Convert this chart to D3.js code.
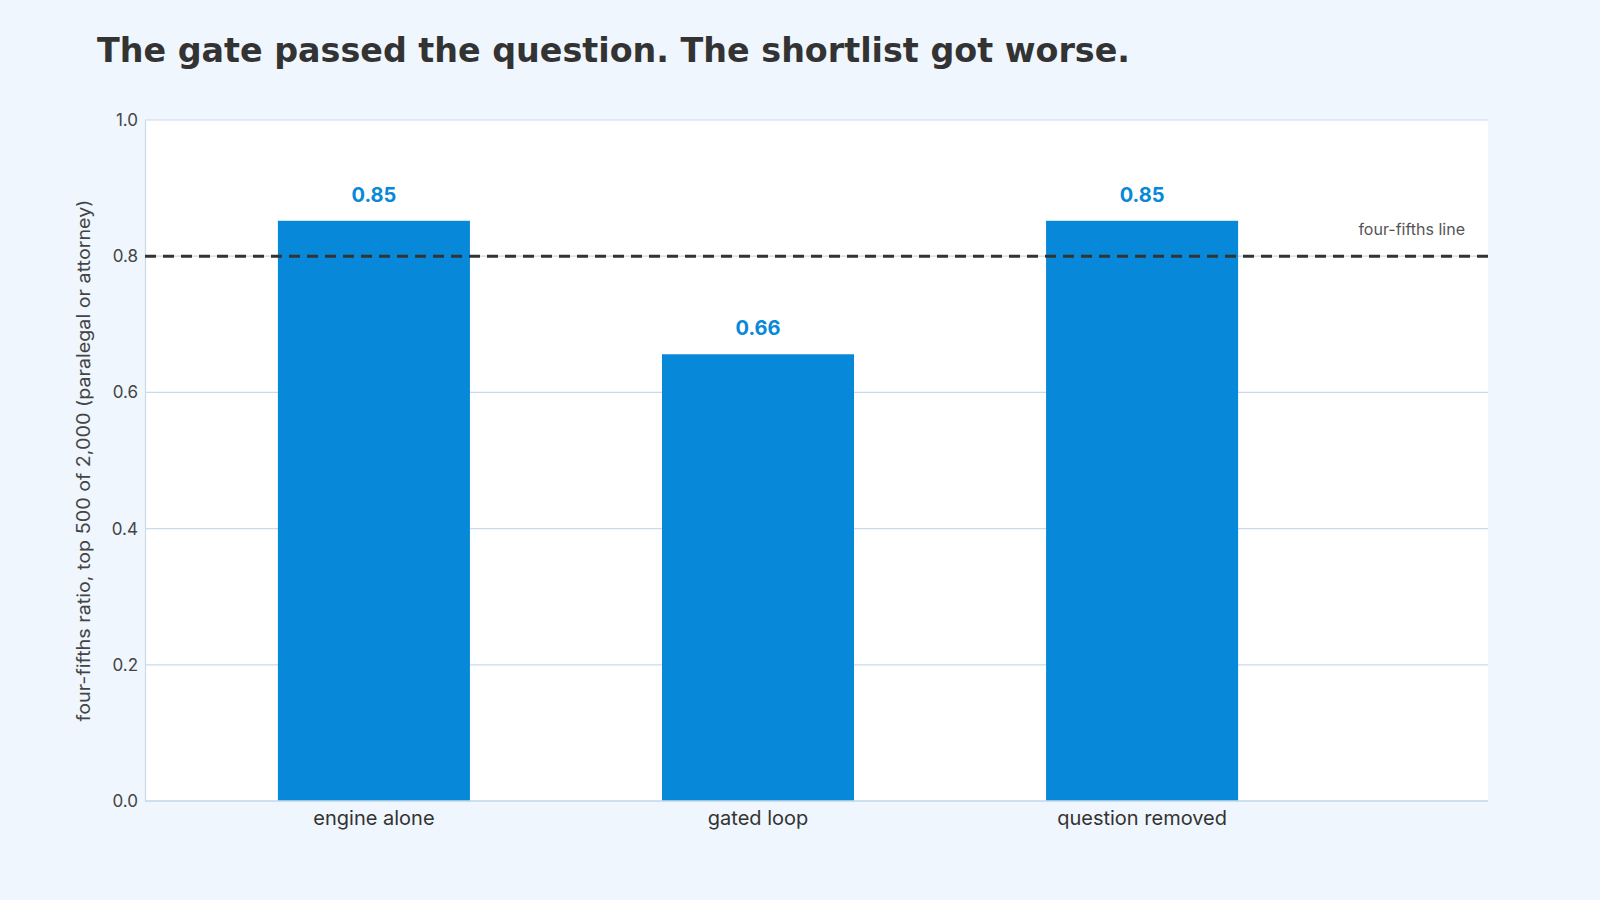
<!DOCTYPE html>
<html lang="en">
<head>
    <meta charset="UTF-8">
    <title>The gate passed the question</title>
    <script src="https://d3js.org/d3.v7.min.js"></script>
    <style>
        body {
            margin: 0;
            padding: 0;
            background-color: #eff6fd;
        }
        .tick text {
            font-family: "Inter", "Open Sans", sans-serif;
        }
    </style>
</head>
<body>
    <svg id="chart" width="1600" height="900"></svg>

    <script>
        // data
        const categories = ["engine alone", "gated loop", "question removed"];
        const ratios = [0.852, 0.656, 0.852];
        const yTicks = [0, 0.2, 0.4, 0.6, 0.8, 1.0];
        const thresholdValue = 0.8;
        const thresholdLabel = ["four-fifths line"];

        const svg = d3.select("#chart");
        const plot = { left: 145, right: 1488, top: 120, bottom: 801 };

        // the bands don't fill the whole plot box in the original, so the range stops short
        const x = d3.scaleBand()
            .domain(categories)
            .range([plot.left, 1371])
            .paddingInner(0.5)
            .paddingOuter(0.346);

        const y = d3.scaleLinear()
            .domain([0, 1])
            .range([plot.bottom, plot.top]);

        // title
        svg.append("text")
            .attr("x", 97)
            .attr("y", 62)
            .attr("textLength", 1033)
            .attr("lengthAdjust", "spacingAndGlyphs")
            .style("font-family", "'DejaVu Sans Condensed', 'DejaVu Sans', sans-serif")
            .style("font-weight", "bold")
            .style("font-size", "33px")
            .style("fill", "#333333")
            .text("The gate passed the question. The shortlist got worse.");

        // plot background
        svg.append("rect")
            .attr("x", plot.left)
            .attr("y", plot.top)
            .attr("width", plot.right - plot.left)
            .attr("height", plot.bottom - plot.top)
            .attr("fill", "#ffffff");

        // grid
        svg.append("g")
            .selectAll("line")
            .data(yTicks)
            .enter().append("line")
            .attr("x1", plot.left)
            .attr("x2", plot.right)
            .attr("y1", d => y(d))
            .attr("y2", d => y(d))
            .attr("stroke", "#c9dbeb")
            .attr("stroke-width", 1.2);

        // left axis
        const yAxis = svg.append("g")
            .attr("transform", `translate(${plot.left},0)`)
            .call(d3.axisLeft(y).tickValues(yTicks).tickFormat(d3.format(".1f")).tickSize(0).tickPadding(7));
        yAxis.select(".domain").attr("stroke", "#c9dbeb").attr("stroke-width", 1.2);
        yAxis.selectAll(".tick text")
            .style("font-size", "17px")
            .style("fill", "#444444");

        // bars
        svg.append("g")
            .selectAll("rect")
            .data(ratios)
            .enter().append("rect")
            .attr("x", (d, i) => x(categories[i]))
            .attr("y", d => y(d))
            .attr("width", x.bandwidth())
            .attr("height", d => y(0) - y(d))
            .attr("fill", "#0788d8");

        // value labels
        svg.append("g")
            .selectAll("text")
            .data(ratios)
            .enter().append("text")
            .attr("x", (d, i) => x(categories[i]) + x.bandwidth() / 2)
            .attr("y", d => y(d) - 19)
            .attr("text-anchor", "middle")
            .style("font-family", "'Inter', 'Open Sans', sans-serif")
            .style("font-weight", "bold")
            .style("font-size", "20px")
            .style("fill", "#0788d8")
            .text(d => d.toFixed(2));

        // bottom axis
        const xAxis = svg.append("g")
            .attr("transform", `translate(0,${plot.bottom})`)
            .call(d3.axisBottom(x).tickSize(0).tickPadding(10));
        xAxis.select(".domain").remove();
        svg.append("line")
            .attr("x1", plot.left)
            .attr("x2", plot.right)
            .attr("y1", plot.bottom)
            .attr("y2", plot.bottom)
            .attr("stroke", "#c9dbeb")
            .attr("stroke-width", 1.5);
        xAxis.selectAll(".tick text")
            .style("font-size", "20px")
            .style("fill", "#333333");

        // four-fifths threshold
        svg.append("line")
            .attr("x1", plot.left)
            .attr("x2", plot.right)
            .attr("y1", y(thresholdValue))
            .attr("y2", y(thresholdValue))
            .attr("stroke", "#333333")
            .attr("stroke-width", 3)
            .attr("stroke-dasharray", "11,7");

        svg.append("text")
            .attr("x", 1465)
            .attr("y", y(thresholdValue) - 21)
            .attr("text-anchor", "end")
            .style("font-family", "'Inter', 'Open Sans', sans-serif")
            .style("font-size", "16px")
            .style("fill", "#555555")
            .text(thresholdLabel[0]);

        // y title
        svg.append("text")
            .attr("transform", `translate(90,${(plot.top + plot.bottom) / 2}) rotate(-90)`)
            .attr("text-anchor", "middle")
            .attr("textLength", 522)
            .attr("lengthAdjust", "spacingAndGlyphs")
            .style("font-family", "'Inter', 'Open Sans', sans-serif")
            .style("font-size", "18px")
            .style("fill", "#444444")
            .text("four-fifths ratio, top 500 of 2,000 (paralegal or attorney)");
    </script>
</body>
</html>
